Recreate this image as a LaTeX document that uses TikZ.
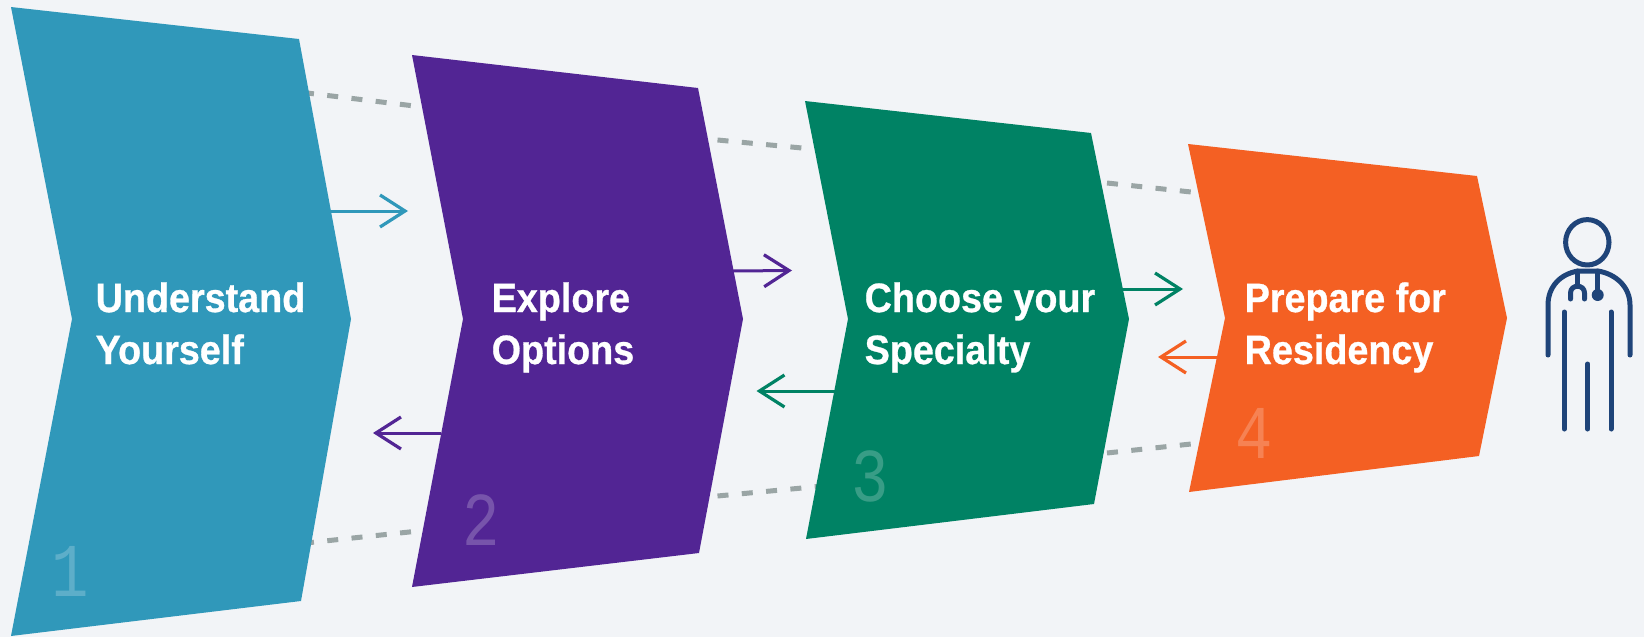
\documentclass[tikz,border=0pt]{standalone}
\usepackage{fontspec}
\setmainfont[FakeStretch=0.92,BoldFeatures={FakeBold=0.7}]{Liberation Sans}
\newfontfamily\numfont[FakeStretch=0.82]{Liberation Mono}
\usetikzlibrary{arrows.meta}
\definecolor{bgc}{HTML}{F2F4F7}
\definecolor{cblue}{HTML}{3098BA}
\definecolor{cpurple}{HTML}{522594}
\definecolor{cgreen}{HTML}{008264}
\definecolor{corange}{HTML}{F46023}
\definecolor{cdash}{HTML}{9AA5A5}
\definecolor{cnavy}{HTML}{1F4479}
\tikzset{
  label text/.style={inner sep=0pt,anchor=base west,text=white,align=left,font=\fontsize{41}{52}\selectfont\bfseries},
  num text/.style={inner sep=0pt,anchor=base,text=white,text opacity=.22,font=\fontsize{76}{76}\selectfont\numfont},
  dash link/.style={draw=cdash,line width=5pt,dash pattern=on 11pt off 13.4pt},
  flow/.style={line width=3pt,-{Straight Barb[length=25pt,width=32pt,line width=3.2pt]}},
  icon line/.style={draw=cnavy,line width=5pt,line cap=round,line join=round}
}
\begin{document}
\begin{tikzpicture}[x=1pt,y=-1pt]
\fill[bgc] (0,0) rectangle (1644,637);
\useasboundingbox (0,0) rectangle (1644,637);
% dashed links
\coordinate (d1a) at (303,92.5);  \coordinate (d1b) at (412,105.7);
\coordinate (d1c) at (303,543.3); \coordinate (d1d) at (412,531.7);
\coordinate (d2a) at (717.5,140); \coordinate (d2b) at (802,148);
\coordinate (d2c) at (717.5,496); \coordinate (d2d) at (818,486.5);
\coordinate (d3a) at (1107,183); \coordinate (d3b) at (1191,192);
\coordinate (d3c) at (1107,453); \coordinate (d3d) at (1191,444);
\draw[dash link] (d1a) -- (d1b);
\draw[dash link] (d1c) -- (d1d);
\draw[dash link] (d2a) -- (d2b);
\draw[dash link] (d2c) -- (d2d);
\draw[dash link] (d3a) -- (d3b);
\draw[dash link] (d3c) -- (d3d);
% chevrons
\fill[cblue] (11,7) -- (299,39) -- (351,319) -- (301,601) -- (11,636) -- (72,319) -- cycle;
\fill[cpurple] (412,55) -- (698,88) -- (743,319) -- (699,553) -- (412,587) -- (463,319) -- cycle;
\fill[cgreen] (805,101) -- (1091,133) -- (1129,319) -- (1094,504) -- (806,539) -- (848,319) -- cycle;
\fill[corange] (1188,144) -- (1477,176) -- (1507,318) -- (1479,456) -- (1189,492) -- (1225,318) -- cycle;
% arrows
\coordinate (a1s) at (331,211); \coordinate (a1e) at (408,211);
\coordinate (a2s) at (441,433); \coordinate (a2e) at (373,433);
\coordinate (a3s) at (733,271); \coordinate (a3e) at (792,270.5);
\coordinate (a4s) at (836,391); \coordinate (a4e) at (756.5,391);
\coordinate (a5s) at (1121,289); \coordinate (a5e) at (1183,289);
\coordinate (a6s) at (1217,357); \coordinate (a6e) at (1158,357);
\draw[flow,cblue] (a1s) -- (a1e);
\draw[flow,cpurple] (a2s) -- (a2e);
\draw[flow,cpurple] (a3s) -- (a3e);
\draw[flow,cgreen] (a4s) -- (a4e);
\draw[flow,cgreen] (a5s) -- (a5e);
\draw[flow,corange] (a6s) -- (a6e);
% labels
\node[label text] (t1) at (95.5,364) {Understand\\Yourself};
\node[label text] (t2) at (491.5,364) {Explore\\Options};
\node[label text] (t3) at (864.5,364) {Choose your\\Specialty};
\node[label text] (t4) at (1244.5,364) {Prepare for\\Residency};
% numbers
\node[num text] (n1) at (70,596) {1};
\node[num text] (n2) at (481,545) {2};
\node[num text] (n3) at (870,501) {3};
\node[num text] (n4) at (1254,458) {4};
% icon
\draw[icon line] (1587.3,242.3) ellipse [x radius=21.7,y radius=22.7];
\draw[icon line] (1548,355) -- (1548,305) .. controls (1548,287) and (1560,274) .. (1578,271) -- (1598,271) .. controls (1616,274) and (1630,287) .. (1630,305) -- (1630,355);
\draw[icon line] (1577.3,271) -- (1577.3,285);
\draw[icon line] (1570.5,299) -- (1570.5,293) .. controls (1570.5,284) and (1584.5,284) .. (1584.5,293) -- (1584.5,299);
\draw[icon line] (1597.7,271) -- (1597.7,295);
\fill[cnavy] (1597.7,295) circle (6);
\draw[icon line] (1564.3,312) -- (1564.3,429);
\draw[icon line] (1611,312) -- (1611,429);
\draw[icon line] (1587.6,364) -- (1587.6,429);
\end{tikzpicture}
\end{document}
